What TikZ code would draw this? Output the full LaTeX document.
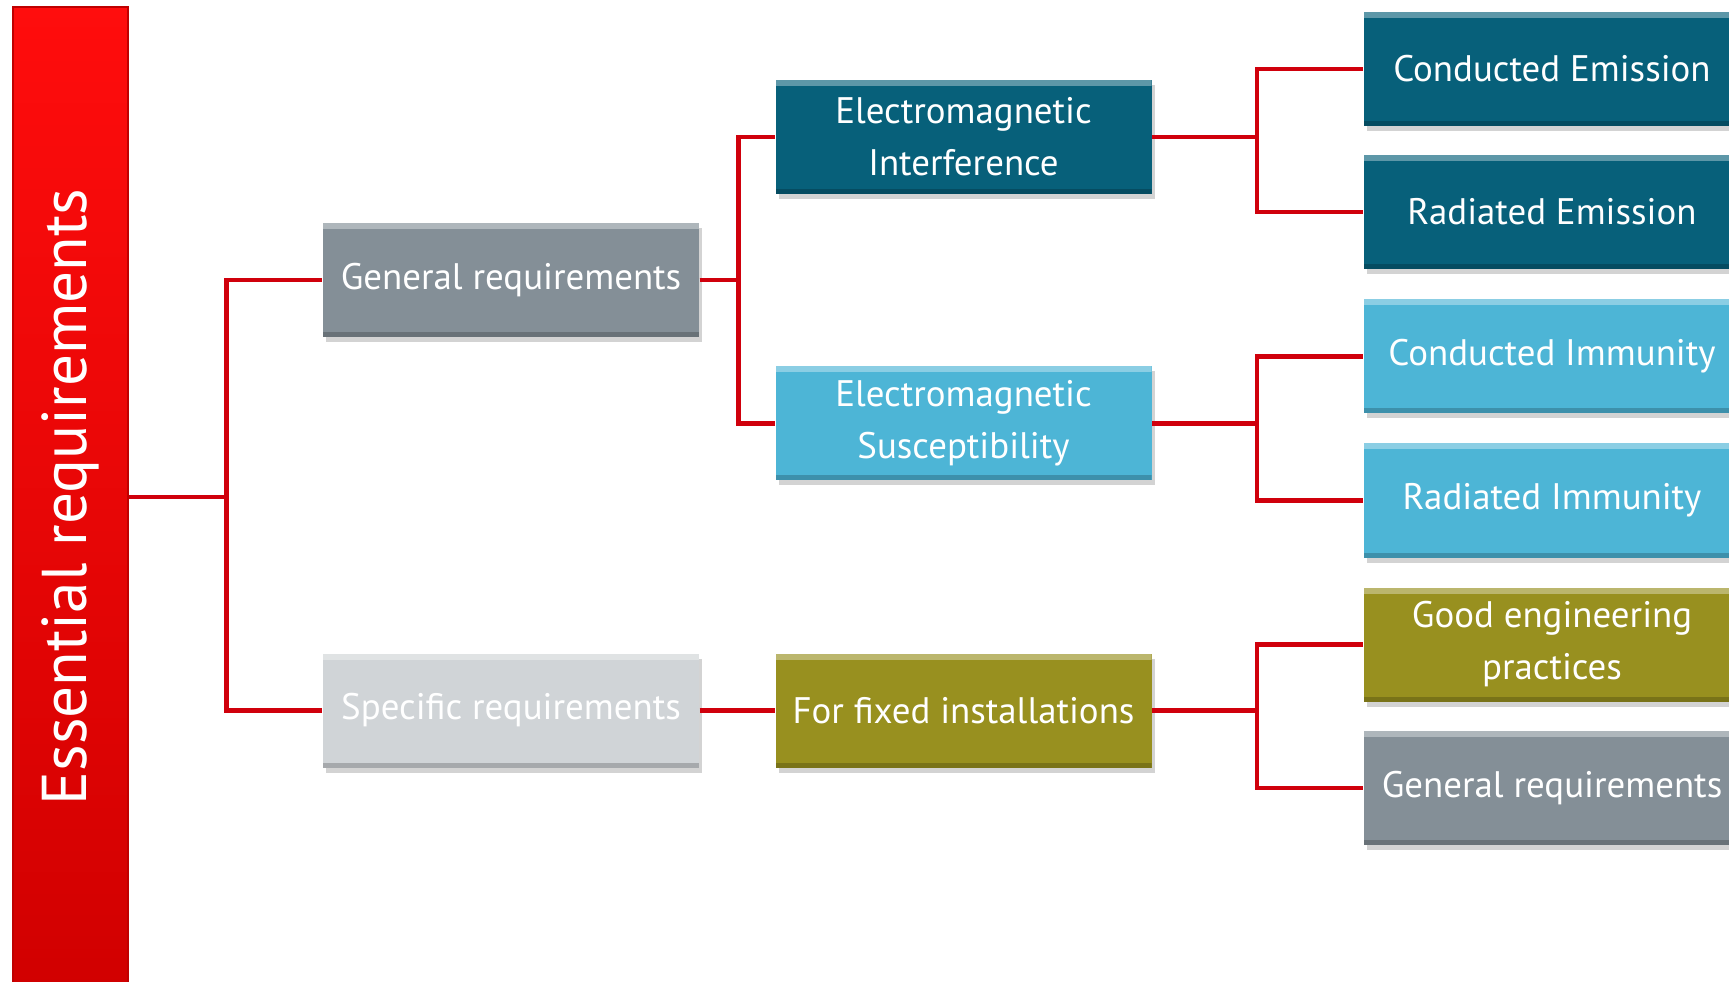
\documentclass[tikz,border=0pt]{standalone}
\usepackage{fontspec}
\setmainfont{PT Sans}
\usetikzlibrary{shadows}
\definecolor{linkred}{HTML}{D0000C}
\definecolor{emidark}{HTML}{07607A}
\definecolor{emslight}{HTML}{4DB5D6}
\definecolor{gengrey}{HTML}{848F97}
\definecolor{specgrey}{HTML}{D0D4D7}
\definecolor{fixolive}{HTML}{98901F}
\begin{document}
\begin{tikzpicture}
\tikzset{box/.style={rectangle,minimum width=3.76cm,minimum height=1.14cm,
  inner sep=0pt,align=center,text=white,font=\fontsize{10.5}{14.8}\selectfont,
  drop shadow={shadow xshift=0.03cm,shadow yshift=-0.05cm,opacity=0.35},
  path picture={
    \fill[white,opacity=.35] (path picture bounding box.north west) rectangle
      ([yshift=-0.06cm]path picture bounding box.north east);
    \fill[black,opacity=.2] ([yshift=0.05cm]path picture bounding box.south west) rectangle
      (path picture bounding box.south east);}},
  link/.style={draw=linkred,line width=0.045cm}}
\useasboundingbox (0,0) rectangle (17.29,-9.82);
\clip (0,0) rectangle (17.29,-9.82);
% root bar
\node[rotate=90,minimum width=9.8cm,minimum height=1.15cm,inner sep=0pt,
  top color=red!95!white,bottom color=red!82!black,draw=red!75!black,
  text=white,font=\fontsize{18}{20}\selectfont] (bar) at (0.705,-4.97) {Essential requirements};
% second level
\node[box,fill=gengrey] (gen) at (5.11,-2.80) {General requirements};
\node[box,fill=specgrey] (spec) at (5.11,-7.105) {Specific requirements};
% third level
\node[box,fill=emidark] (emi) at (9.635,-1.368) {Electromagnetic\\Interference};
\node[box,fill=emslight] (ems) at (9.635,-4.235) {Electromagnetic\\Susceptibility};
\node[box,fill=fixolive] (fix) at (9.635,-7.105) {For fixed installations};
% leaves
\node[box,fill=emidark] (ce) at (15.52,-0.69) {Conducted Emission};
\node[box,fill=emidark] (re) at (15.52,-2.12) {Radiated Emission};
\node[box,fill=emslight] (ci) at (15.52,-3.565) {Conducted Immunity};
\node[box,fill=emslight] (ri) at (15.52,-5.005) {Radiated Immunity};
\node[box,fill=fixolive] (gep) at (15.52,-6.445) {Good engineering\\practices};
\node[box,fill=gengrey] (gr) at (15.52,-7.88) {General requirements};
% connectors
\draw[link] (bar.south) -- ++(0.98,0) |- (gen.west);
\draw[link] (bar.south) -- ++(0.98,0) |- (spec.west);
\draw[link] (gen.east) -- ++(0.39,0) |- (emi.west);
\draw[link] (gen.east) -- ++(0.39,0) |- (ems.west);
\draw[link] (spec.east) -- (fix.west);
\draw[link] (emi.east) -- ++(1.05,0) |- (ce.west);
\draw[link] (emi.east) -- ++(1.05,0) |- (re.west);
\draw[link] (ems.east) -- ++(1.05,0) |- (ci.west);
\draw[link] (ems.east) -- ++(1.05,0) |- (ri.west);
\draw[link] (fix.east) -- ++(1.05,0) |- (gep.west);
\draw[link] (fix.east) -- ++(1.05,0) |- (gr.west);
\end{tikzpicture}
\end{document}
